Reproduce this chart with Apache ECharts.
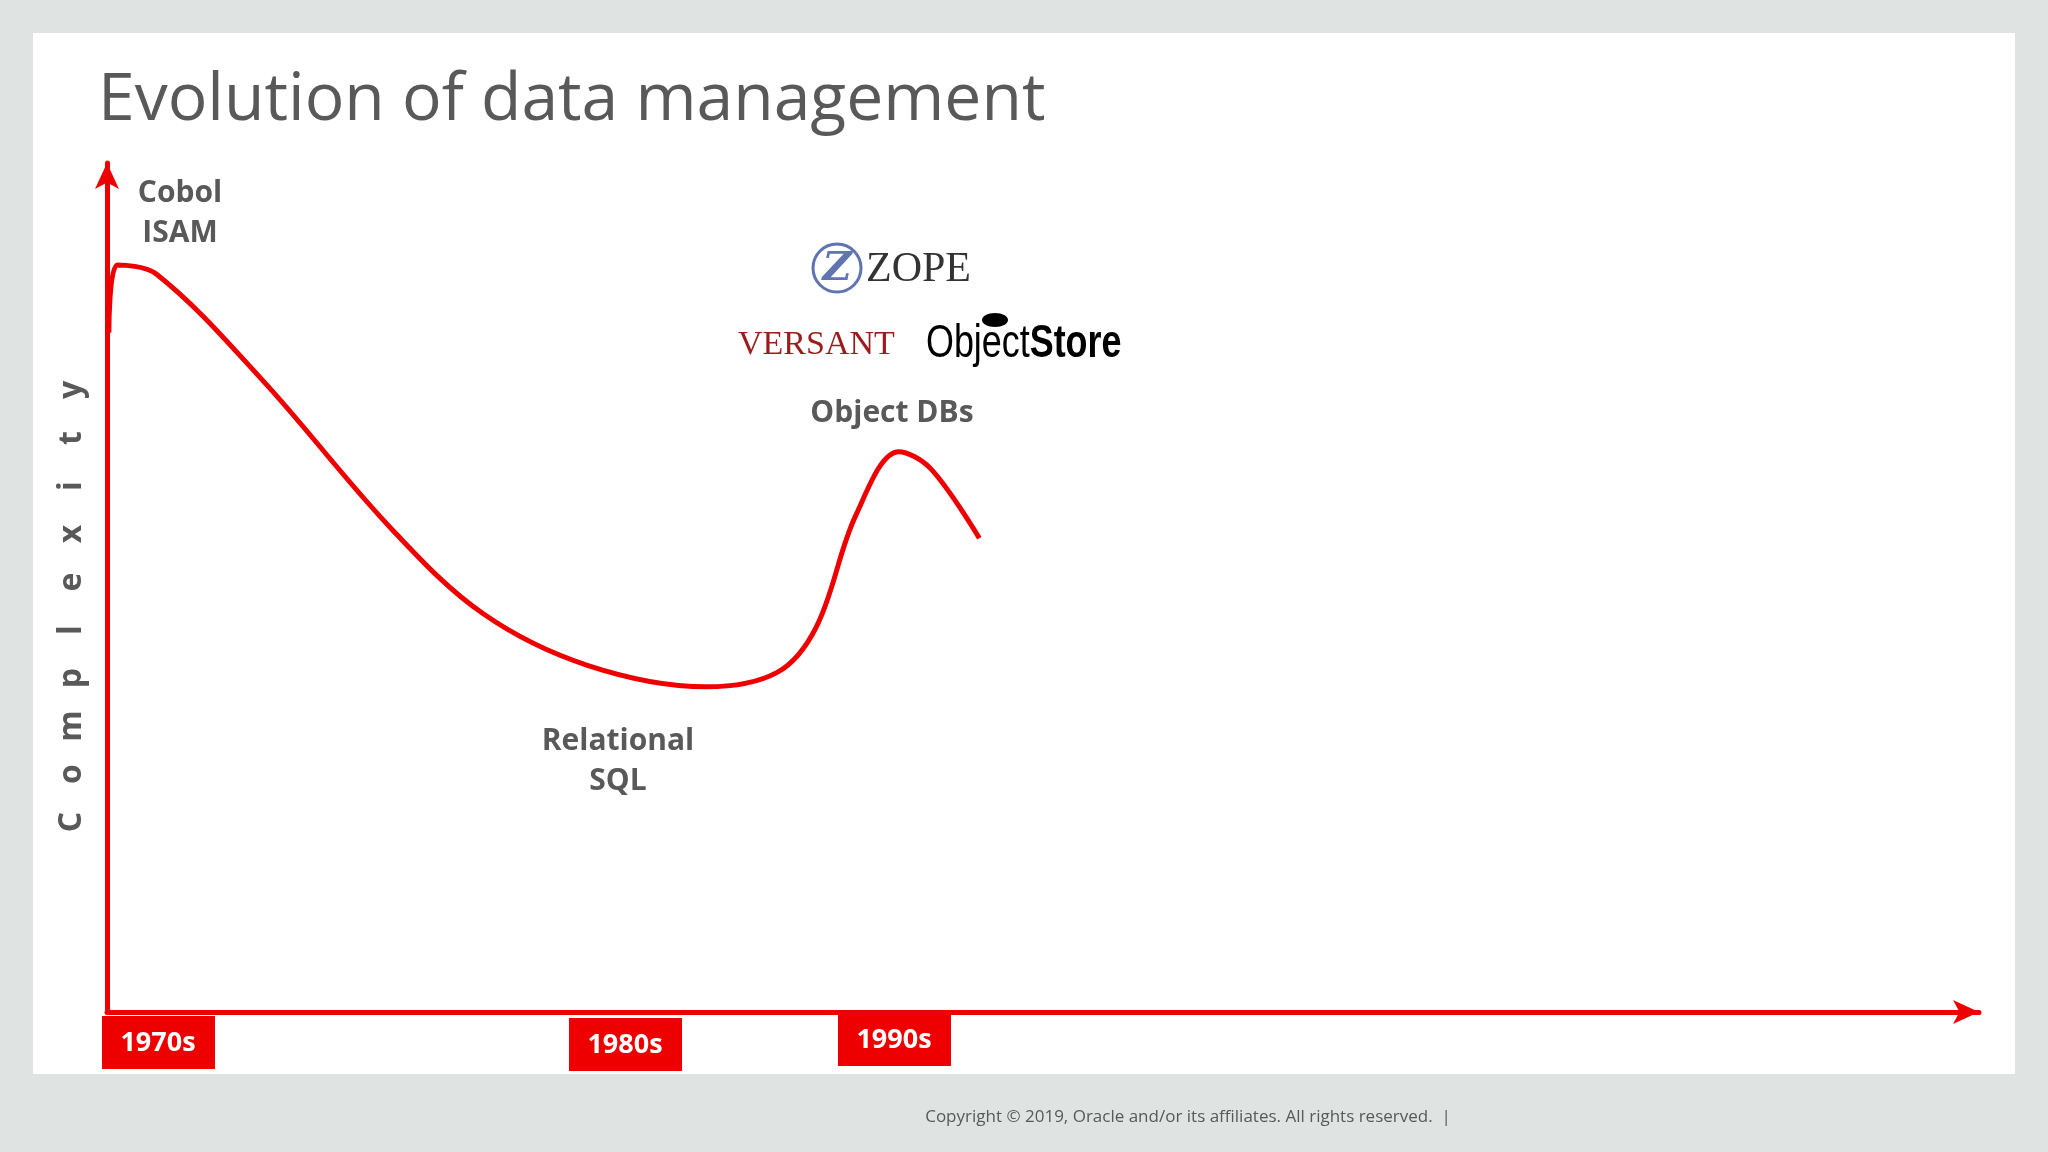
<!DOCTYPE html>
<html><head><meta charset="utf-8">
<script src="https://cdn.jsdelivr.net/npm/echarts@6/dist/echarts.min.js"></script>
<style>html,body{margin:0;padding:0;background:#dfe3e2}#c{width:2048px;height:1152px}</style>
</head><body><div id="c"></div>
<script>
const curveX = [0.1, 0.56, 2.65, 8.23, 15.2, 20.1, 25.7, 32.0, 35.8, 37.9, 40.0, 42.3, 44.0, 46.6];
const curveY = [80, 88.0, 86.9, 74.6, 56.9, 46.9, 40.8, 38.3, 40.0, 45.4, 58.5, 66.0, 64.0, 55.8];
const decades = ['1970s', '1980s', '1990s'];
const yTitle = 'Complexity';
const gray = '#595959';
const chart = echarts.init(document.getElementById('c'));
const font = '"Open Sans", sans-serif';
function box(x, y, label) {
  return {type:'group', left:x, top:y, children:[
    {type:'rect', shape:{x:0,y:0,width:113,height:53}, style:{fill:'#ee0000'}},
    {type:'text', x:56, y:27, style:{text:label, fill:'#fff', font:'bold 27px '+font, align:'center', verticalAlign:'middle'}}
  ]};
}
const letters = yTitle.split('').map((ch, i) => ({
  type:'text', x:72, y:822 - i*48, rotation:Math.PI/2,
  style:{text:ch, fill:gray, font:'bold 32px '+font, align:'center', verticalAlign:'middle'}
}));
chart.setOption({
  backgroundColor:'#dfe3e2',
  grid:{left:107, right:69, top:163, bottom:140},
  xAxis:{type:'value', min:0, max:100, axisLine:{lineStyle:{color:'#ee0000', width:5}, symbol:['none','arrow'], symbolSize:[18,26]}, axisTick:{show:false}, axisLabel:{show:false}, splitLine:{show:false}},
  yAxis:{type:'value', min:0, max:100, axisLine:{show:true, lineStyle:{color:'#ee0000', width:5}, symbol:['none','arrow'], symbolSize:[18,26]}, axisTick:{show:false}, axisLabel:{show:false}, splitLine:{show:false}},
  graphic:[
    {type:'rect', left:33, top:33, z:-10, shape:{width:1982, height:1041}, style:{fill:'#fff'}},
    {type:'text', left:98, top:68, style:{text:'Evolution of data management', fill:gray, font:'66px '+font}},
    {type:'text', x:180, y:213, style:{text:'Cobol\nISAM', fill:gray, font:'bold 30px '+font, align:'center', verticalAlign:'middle', lineHeight:40}},
    {type:'text', x:618, y:761, style:{text:'Relational\nSQL', fill:gray, font:'bold 30px '+font, align:'center', verticalAlign:'middle', lineHeight:40}},
    {type:'text', x:892, y:413, style:{text:'Object DBs', fill:gray, font:'bold 30px '+font, align:'center', verticalAlign:'middle'}},
    ...letters,
    {type:'circle', shape:{cx:837, cy:268, r:24}, style:{fill:'#fff', stroke:'#5f74b0', lineWidth:3}},
    {type:'text', x:837, y:270, style:{text:'Z', fill:'#5f74b0', font:'italic bold 40px "DejaVu Serif", serif', align:'center', verticalAlign:'middle'}},
    {type:'text', x:866, y:270, style:{text:'ZOPE', fill:'#333', font:'42px "Liberation Serif", serif', verticalAlign:'middle'}},
    {type:'text', x:738, y:345, style:{text:'VERSANT', fill:'#9b1c1c', font:'34px "Liberation Serif", serif', verticalAlign:'middle'}},
    {type:'text', x:926, y:344, scaleX:0.78, style:{rich:{a:{font:'46px "Liberation Sans", sans-serif', fill:'#000'}, b:{font:'bold 46px "Liberation Sans", sans-serif', fill:'#000'}}, text:'{a|Object}{b|Store}', verticalAlign:'middle'}},
    {type:'ellipse', shape:{cx:995, cy:320, rx:13, ry:7}, style:{fill:'#000'}},
    box(102, 1016, decades[0]), box(569, 1018, decades[1]), box(838, 1013, decades[2]),
    {type:'text', x:1188, y:1117, style:{text:'Copyright \u00a9 2019, Oracle and/or its affiliates. All rights reserved.  |', fill:gray, font:'17px '+font, align:'center', verticalAlign:'middle'}}
  ],
  series:[{type:'line', smooth:0.35, symbol:'none', lineStyle:{color:'#ee0000', width:5}, data:curveX.map((x,i)=>[x, curveY[i]])}]
});
</script></body></html>
